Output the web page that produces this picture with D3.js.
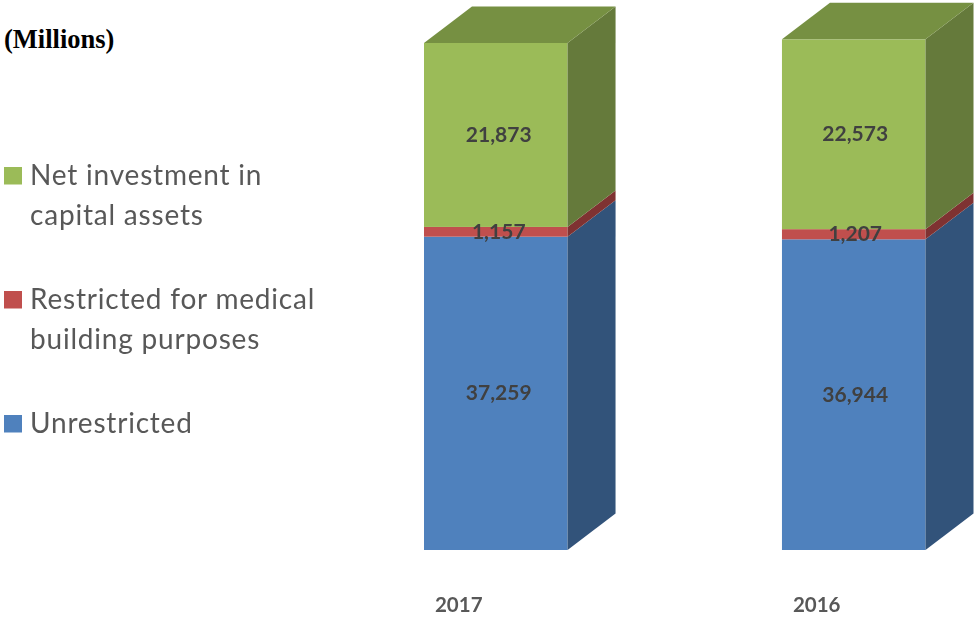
<!DOCTYPE html>
<html>
<head>
<meta charset="utf-8">
<script src="https://cdn.jsdelivr.net/npm/d3@7"></script>
<style>
  html, body { margin: 0; padding: 0; background: #fff; }
  svg { display: block; }
</style>
</head>
<body>
<div id="chart"></div>
<script>
// stacked from the bottom up
const years = ["2017", "2016"]
const seriesNames = ["Unrestricted", "Restricted for medical building purposes", "Net investment in capital assets"]
const unrestricted = [37259, 36944]
const restricted = [1157, 1207]
const netInvestment = [21873, 22573]

const seriesColors = ["#4f81bd", "#c0504d", "#9bbb59"]
const sideColors = ["#31527a", "#7f3331", "#657a3a"]
const topColor = "#769043"

const legendLines = [
    ["Net investment in", "capital assets"],
    ["Restricted for medical", "building purposes"],
    ["Unrestricted"]
]

const config = {
    svgWidth: 975,
    svgHeight: 619,
    baseY: 550,
    depthX: 48,
    depthY: 36.5
}

const rows = years.map((year, i) => ({
    year: year,
    Unrestricted: unrestricted[i],
    Restricted: restricted[i],
    Net: netInvestment[i]
}))
const stacked = d3.stack().keys(["Unrestricted", "Restricted", "Net"])(rows)

const xScale = d3.scaleBand().domain(years).range([424, 925.5]).paddingInner(0.599)
const yScale = d3.scaleLinear().domain([0, 60289]).range([config.baseY, 43])

const svg = d3.select("#chart")
    .append("svg")
    .attr("width", config.svgWidth)
    .attr("height", config.svgHeight)

const defs = svg.append("defs")
defs.append("filter").attr("id", "soft")
    .append("feGaussianBlur").attr("stdDeviation", 0.6)
defs.append("filter").attr("id", "softText")
    .append("feGaussianBlur").attr("stdDeviation", 0.7)

const marks = svg.append("g").attr("filter", "url(#soft)")

stacked.forEach((layer, s) => {
    const g = marks.append("g")
    // front face
    g.selectAll("rect")
        .data(layer)
        .enter()
        .append("rect")
        .attr("x", d => xScale(d.data.year))
        .attr("y", d => yScale(d[1]))
        .attr("width", xScale.bandwidth())
        .attr("height", d => yScale(d[0]) - yScale(d[1]))
        .attr("fill", seriesColors[s])
    // right side face
    g.selectAll("polygon")
        .data(layer)
        .enter()
        .append("polygon")
        .attr("fill", sideColors[s])
        .attr("points", d => {
            const x = xScale(d.data.year) + xScale.bandwidth()
            const y0 = yScale(d[0])
            const y1 = yScale(d[1])
            return [[x, y0], [x, y1], [x + config.depthX, y1 - config.depthY], [x + config.depthX, y0 - config.depthY]].join(" ")
        })
})

// top face of the last series
marks.append("g").selectAll("polygon")
    .data(stacked[2])
    .enter()
    .append("polygon")
    .attr("fill", topColor)
    .attr("points", d => {
        const x = xScale(d.data.year)
        const w = xScale.bandwidth()
        const y = yScale(d[1])
        return [[x, y], [x + w, y], [x + w + config.depthX, y - config.depthY], [x + config.depthX, y - config.depthY]].join(" ")
    })

const textLayer = svg.append("g").attr("filter", "url(#softText)")

// value labels
stacked.forEach(layer => {
    textLayer.append("g").selectAll("text")
        .data(layer)
        .enter()
        .append("text")
        .attr("x", d => xScale(d.data.year) + xScale.bandwidth() / 2 + 3 - (d.data.year === "2016" ? 1.5 : 0))
        .attr("y", d => (yScale(d[0]) + yScale(d[1])) / 2 + 7)
        .attr("text-anchor", "middle")
        .attr("font-family", "Lato")
        .attr("font-weight", 700)
        .attr("font-size", 21)
        .attr("fill", "#404040")
        .text(d => d3.format(",")(d[1] - d[0]))
})

// category labels
textLayer.append("g").selectAll("text")
    .data(years)
    .enter()
    .append("text")
    .attr("x", d => xScale(d) + xScale.bandwidth() / 2 - 37)
    .attr("y", 612)
    .attr("text-anchor", "middle")
    .attr("font-family", "Lato")
    .attr("font-weight", 700)
    .attr("font-size", 20.5)
    .attr("fill", "#595959")
    .text(d => d)

// legend
const legendTop = [184, 308, 432]
const legendColors = [seriesColors[2], seriesColors[1], seriesColors[0]]
legendLines.forEach((lines, i) => {
    const row = textLayer.append("g")
    row.append("rect")
        .attr("x", 4)
        .attr("y", legendTop[i] - 17)
        .attr("width", 18)
        .attr("height", 17.5)
        .attr("fill", legendColors[i])
    row.selectAll("text")
        .data(lines)
        .enter()
        .append("text")
        .attr("x", 30)
        .attr("y", (d, j) => legendTop[i] + 1 + j * 40)
        .attr("font-family", "Lato")
        .attr("font-size", 28)
        .attr("letter-spacing", 0.8)
        .attr("fill", "#595959")
        .text(d => d)
})

svg.append("text")
    .attr("x", 4)
    .attr("y", 48)
    .attr("font-family", "Liberation Serif")
    .attr("font-weight", 700)
    .attr("font-size", 26.5)
    .attr("fill", "#000")
    .text("(Millions)")
</script>
</body>
</html>
